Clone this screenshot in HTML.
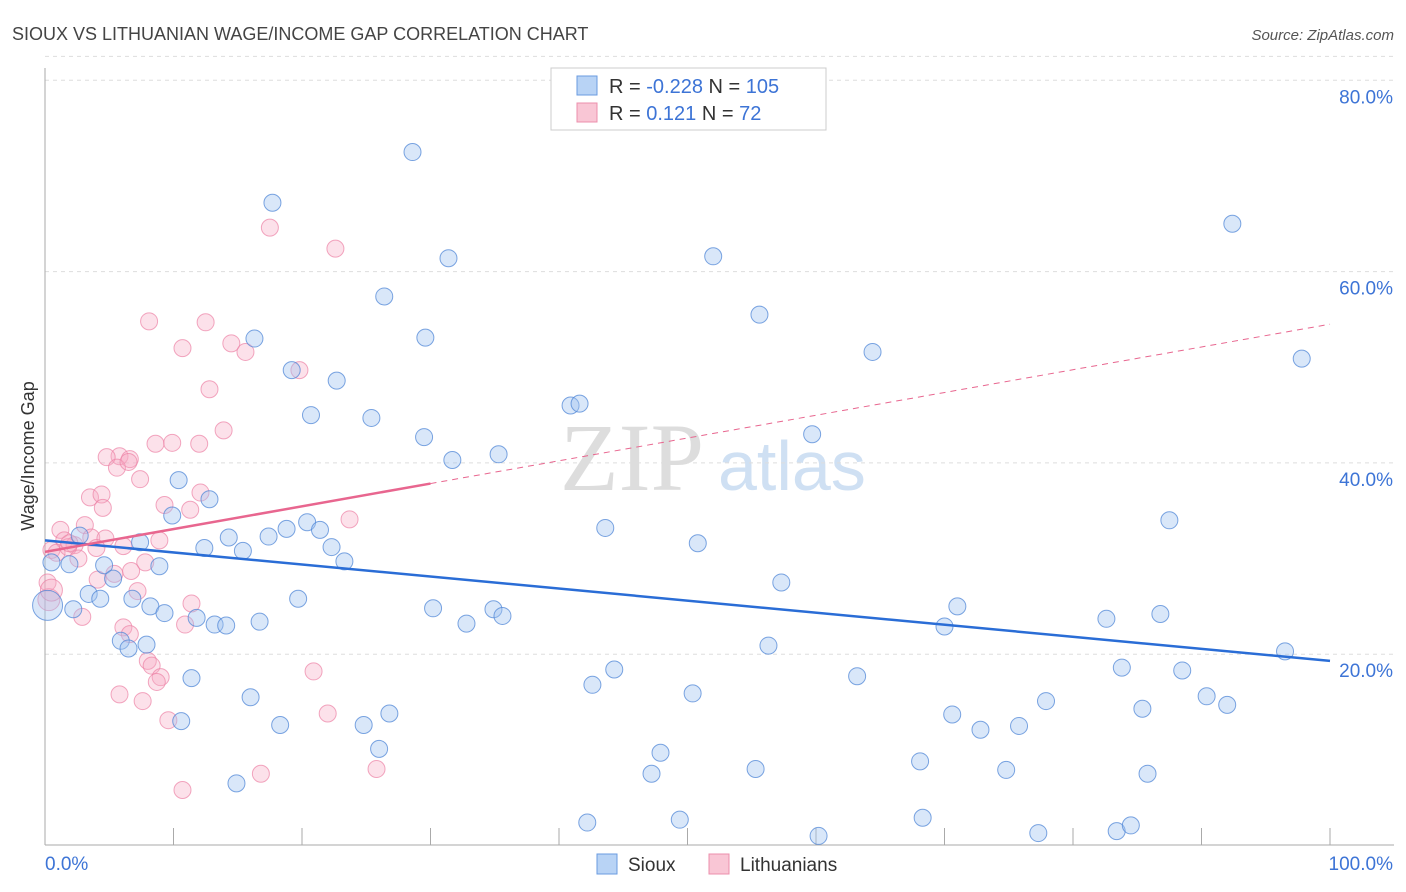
<!DOCTYPE html>
<html><head><meta charset="utf-8"><style>
body{margin:0;background:#fff;font-family:"Liberation Sans",sans-serif}
svg{display:block}
</style></head><body>
<svg id="c" width="1406" height="892" xmlns="http://www.w3.org/2000/svg">
<text x="12" y="40" font-size="18" fill="#444">SIOUX VS LITHUANIAN WAGE/INCOME GAP CORRELATION CHART</text>
<text x="1394" y="40" font-size="15" fill="#555" font-style="italic" text-anchor="end">Source: ZipAtlas.com</text>
<text x="560" y="490" font-size="96" fill="#ddd" font-family="Liberation Serif">ZIP</text>
<text x="718" y="490" font-size="70" fill="#cfe0f3">atlas</text>
<text transform="translate(34,456) rotate(-90)" font-size="18" fill="#333" text-anchor="middle">Wage/Income Gap</text>
<g id="grid"></g><g id="pts"></g><g id="lines"></g>
<g>
<rect x="551" y="68" width="275" height="62" fill="#fff" stroke="#ccc"/>
<rect x="577" y="76" width="20" height="19" fill="#b8d3f5" stroke="#6a9be0"/>
<rect x="577" y="103" width="20" height="19" fill="#f9c6d5" stroke="#ec8fac"/>
<text x="609" y="93" font-size="20" fill="#333">R = <tspan fill="#3d74d6">-0.228</tspan>   N = <tspan fill="#3d74d6">105</tspan></text>
<text x="609" y="120" font-size="20" fill="#333">R =    <tspan fill="#3d74d6">0.121</tspan>   N =   <tspan fill="#3d74d6">72</tspan></text>
</g>
<g>
<rect x="597" y="854" width="20" height="20" fill="#b8d3f5" stroke="#6a9be0"/>
<text x="628" y="871" font-size="19" fill="#333">Sioux</text>
<rect x="709" y="854" width="20" height="20" fill="#f9c6d5" stroke="#ec8fac"/>
<text x="740" y="871" font-size="19" fill="#333">Lithuanians</text>
</g>
</svg>
<script>
const yTicks=[20,40,60,80];
const yTickLabels=["20.0%","40.0%","60.0%","80.0%"];
const xTicks=[0,10,20,30,40,50,60,70,80,90,100];
const siouxX=[28.6,17.7,31.4,52.0,92.4,26.4,16.3,29.6,55.6,64.4,97.8,19.2,22.7,20.7,25.4,40.9,41.6,29.5,59.7,31.7,35.3,10.4,9.9,12.8,0.5,1.9,2.7,3.4,4.3,4.6,5.3,6.8,7.4,8.9,8.2,9.3,12.4,14.3,15.4,17.4,18.8,20.4,21.4,22.3,23.3,19.7,11.8,13.2,14.1,16.7,30.2,32.8,34.9,35.6,43.6,50.8,57.3,71.0,70.0,82.6,86.8,87.5,96.5,56.3,5.9,6.5,7.9,2.2,11.4,10.6,16.0,18.3,24.8,26.0,26.8,42.6,44.3,50.4,63.2,83.8,88.5,90.4,92.0,85.4,77.9,75.8,72.8,70.6,68.1,74.8,85.8,47.9,47.2,55.3,14.9,42.2,49.4,60.2,68.3,77.3,83.4,84.5,0.2];
const siouxY=[72.5,67.2,61.4,61.6,65.0,57.4,53.0,53.1,55.5,51.6,50.9,49.7,48.6,45.0,44.7,46.0,46.2,42.7,43.0,40.3,40.9,38.2,34.5,36.2,29.6,29.4,32.4,26.3,25.8,29.3,27.9,25.8,31.7,29.2,25.0,24.3,31.1,32.2,30.8,32.3,33.1,33.8,33.0,31.2,29.7,25.8,23.8,23.1,23.0,23.4,24.8,23.2,24.7,24.0,33.2,31.6,27.5,25.0,22.9,23.7,24.2,34.0,20.3,20.9,21.4,20.6,21.0,24.7,17.5,13.0,15.5,12.6,12.6,10.1,13.8,16.8,18.4,15.9,17.7,18.6,18.3,15.6,14.7,14.3,15.1,12.5,12.1,13.7,8.8,7.9,7.5,9.7,7.5,8.0,6.5,2.4,2.7,1.0,2.9,1.3,1.5,2.1,25.1];
const lithX=[17.5,22.6,8.1,12.5,10.7,14.5,15.6,19.8,12.8,13.9,8.6,9.9,12.0,5.8,6.6,7.4,4.8,5.6,6.5,12.1,3.5,4.4,4.5,11.3,9.3,3.1,1.2,1.5,2.3,3.6,4.7,6.1,8.9,7.8,6.7,7.2,5.4,4.1,0.5,0.2,0.9,1.8,2.9,4.0,1.9,23.7,11.4,10.9,6.1,6.6,8.0,8.3,9.0,8.7,20.9,5.8,7.6,9.6,22.0,25.8,16.8,10.7,0.3,0.5,2.6];
const lithY=[64.6,62.4,54.8,54.7,52.0,52.5,51.6,49.7,47.7,43.4,42.0,42.1,42.0,40.7,40.4,38.3,40.6,39.5,40.1,36.9,36.4,36.7,35.3,35.1,35.6,33.5,33.0,31.9,31.4,32.2,32.1,31.3,31.9,29.6,28.7,26.6,28.4,27.8,30.9,27.5,30.6,31.2,23.9,31.1,31.6,34.1,25.3,23.1,22.8,22.1,19.3,18.8,17.6,17.1,18.2,15.8,15.1,13.1,13.8,8.0,7.5,5.8,25.7,26.7,30.0];
const siouxTrend=[31.9,19.3];
const lithTrend=[30.7,54.5];
const lithSolidEnd=30;
const NS="http://www.w3.org/2000/svg";
const X=v=>45+v*12.85, Y=v=>845.5-v*9.565;
function mk(t,a,p){const e=document.createElementNS(NS,t);for(const k in a)e.setAttribute(k,a[k]);p.appendChild(e);return e;}
const g=document.getElementById('grid');
yTicks.forEach((t,i)=>{
 const l=mk('line',{x1:45,x2:1394,y1:Y(t),y2:Y(t),stroke:'#ddd','stroke-dasharray':'4,4'},g);
 
 
 const tx=mk('text',{x:1393,y:Y(t)+23,'font-size':19,fill:'#3d74d6','text-anchor':'end'},g);tx.textContent=yTickLabels[i];
 
 
});
mk('line',{x1:45,x2:1394,y1:Y(82.5),y2:Y(82.5),stroke:'#ddd','stroke-dasharray':'4,4'},g);
mk('line',{x1:45,x2:45,y1:68,y2:845,stroke:'#aaa'},g);
mk('line',{x1:45,x2:1394,y1:845,y2:845,stroke:'#aaa'},g);
xTicks.forEach(t=>{const l=mk('line',{x1:X(t),x2:X(t),y1:828,y2:845,stroke:'#aaa'},g);
 
 });
let a=mk('text',{x:45,y:870,'font-size':19,fill:'#3d74d6'},g);a.textContent='0.0%';


a=mk('text',{x:1393,y:870,'font-size':19,fill:'#3d74d6','text-anchor':'end'},g);a.textContent='100.0%';


const p=document.getElementById('pts');
lithX.forEach((x,i)=>{const big=(i>=62&&i<=63);const c=mk('circle',{cx:X(x),cy:Y(lithY[i]),r:big?11:8.5,fill:'rgba(246,168,194,0.35)',stroke:'rgba(236,130,165,0.7)','stroke-width':1},p);
 
 });
siouxX.forEach((x,i)=>{const big=i===siouxX.length-1;const c=mk('circle',{cx:X(x),cy:Y(siouxY[i]),r:big?15:8.5,fill:'rgba(160,196,240,0.4)',stroke:'rgba(80,135,215,0.75)','stroke-width':1},p);
 
 });
const L=document.getElementById('lines');
let ln=mk('line',{x1:X(0),y1:Y(siouxTrend[0]),x2:X(100),y2:Y(siouxTrend[1]),stroke:'#2a6dd6','stroke-width':2.5},L);


const lv=x=>lithTrend[0]+(lithTrend[1]-lithTrend[0])*x/100;
ln=mk('line',{x1:X(0),y1:Y(lv(0)),x2:X(lithSolidEnd),y2:Y(lv(lithSolidEnd)),stroke:'#e8668f','stroke-width':2.5},L);


ln=mk('line',{x1:X(lithSolidEnd),y1:Y(lv(lithSolidEnd)),x2:X(100),y2:Y(lv(100)),stroke:'#e8668f','stroke-width':1,'stroke-dasharray':'6,5'},L);


</script>
</body></html>
